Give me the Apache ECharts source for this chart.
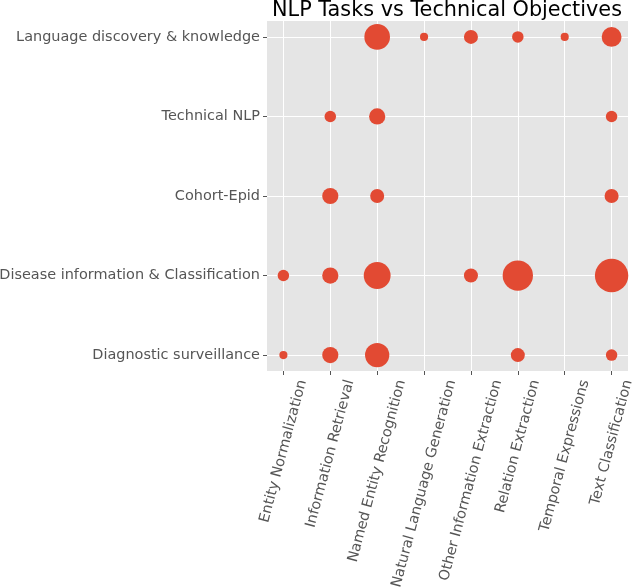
<!DOCTYPE html>
<html><head><meta charset="utf-8">
<script src="https://cdn.jsdelivr.net/npm/echarts@6/dist/echarts.min.js"></script>
<style>html,body{margin:0;padding:0;background:#fff}#c{width:632px;height:588px}</style>
</head><body><div id="c"></div>
<script>
const titleText = 'NLP Tasks vs Technical Objectives';
const nlpTasks = ['Entity Normalization', 'Information Retrieval', 'Named Entity Recognition', 'Natural Language Generation', 'Other Information Extraction', 'Relation Extraction', 'Temporal Expressions', 'Text Classification'];
const objectives = ['Diagnostic surveillance', 'Disease information & Classification', 'Cohort-Epid', 'Technical NLP', 'Language discovery & knowledge'];
// study counts per objective, aligned with nlpTasks (0 = none)
const diagnosticSurveillance = [1, 4, 9, 0, 0, 3, 0, 2];
const diseaseInformation     = [2, 4, 11, 0, 3, 14, 0, 17];
const cohortEpid             = [0, 4, 3, 0, 0, 0, 0, 3];
const technicalNlp           = [0, 2, 4, 0, 0, 0, 0, 2];
const languageDiscovery      = [0, 0, 10, 1, 3, 2, 1, 6];

const rows = [diagnosticSurveillance, diseaseInformation, cohortEpid, technicalNlp, languageDiscovery];
const points = [];
rows.forEach((row, j) => row.forEach((c, i) => { if (c > 0) points.push([i, j, c]); }));

const FONT = '"DejaVu Sans", sans-serif';
const LABEL_SIZE = 14.45;
const chart = echarts.init(document.getElementById('c'), null, {renderer: 'canvas'});
const xIdx = nlpTasks.map((_, i) => i);
const yIdx = objectives.map((_, i) => i);

chart.setOption({
  animation: false,
  title: {
    text: titleText, left: 442, top: -5, textAlign: 'center',
    textStyle: {fontFamily: FONT, fontSize: 20.8, fontWeight: 'normal', color: '#000'}
  },
  grid: {left: 267, right: 4, top: 21, bottom: 217, show: true, backgroundColor: '#E5E5E5', borderWidth: 0,
    containLabel: false, outerBoundsMode: 'none'},
  xAxis: {
    type: 'value', min: -0.35, max: 7.35,
    axisLine: {show: false, onZero: false},
    axisTick: {show: true, length: 4, lineStyle: {color: '#555555', width: 1}, customValues: xIdx},
    axisLabel: {show: false, customValues: xIdx},
    splitLine: {show: true, lineStyle: {color: '#ffffff', width: 1}}
  },
  yAxis: {
    type: 'value', min: -0.2, max: 4.2,
    axisLine: {show: false, onZero: false},
    axisTick: {show: true, length: 4, lineStyle: {color: '#555555', width: 1}, customValues: yIdx},
    axisLabel: {show: true, customValues: yIdx, margin: 7, color: '#555555', fontFamily: FONT, fontSize: LABEL_SIZE,
      formatter: v => objectives[Math.round(v)] || ''},
    splitLine: {show: true, lineStyle: {color: '#ffffff', width: 1}}
  },
  series: [{
    type: 'scatter',
    data: points,
    symbol: 'circle',
    symbolSize: d => 8.1 * Math.sqrt(d[2]),
    itemStyle: {color: '#E24A33', opacity: 1},
    silent: true
  }]
});

// rotated x tick labels, bounding box centered under each tick (matplotlib style)
const theta = 75 * Math.PI / 180;
const ctx = document.createElement('canvas').getContext('2d');
ctx.font = LABEL_SIZE + 'px ' + FONT;
const h = LABEL_SIZE * 1.164;
const y0 = 378;
const labels = nlpTasks.map((name, i) => {
  const px = chart.convertToPixel({gridIndex: 0}, [i, 0]);
  const L = ctx.measureText(name).width;
  const cy = y0 + (L * Math.sin(theta) + h * Math.cos(theta)) / 2;
  return {
    type: 'text', x: px[0], y: cy, rotation: theta, silent: true,
    style: {text: name, align: 'center', verticalAlign: 'middle', font: LABEL_SIZE + 'px ' + FONT, fill: '#555555'}
  };
});
chart.setOption({graphic: labels});
</script>
</body></html>
